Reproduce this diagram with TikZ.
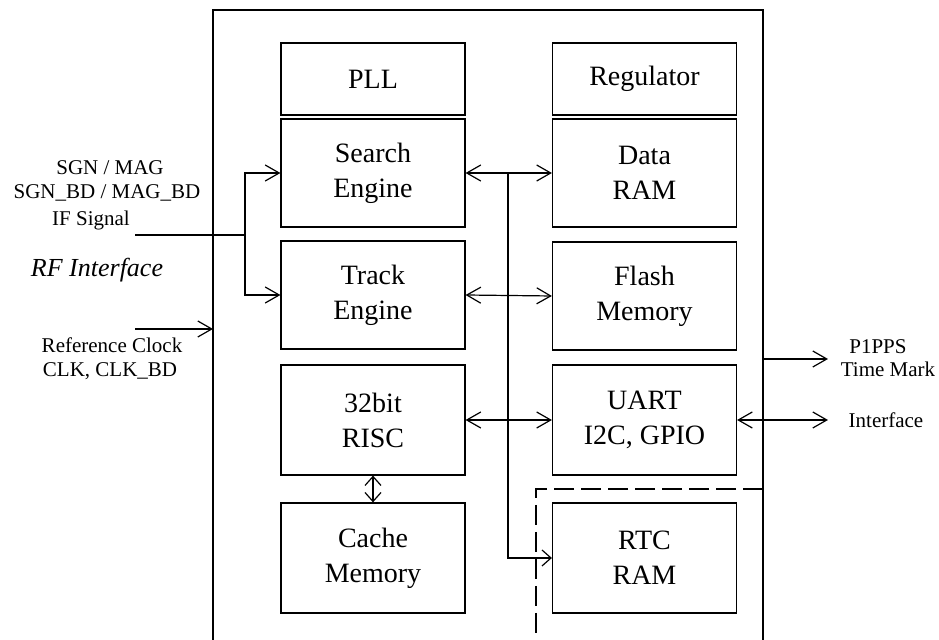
\documentclass[tikz,border=0pt]{standalone}
\usepackage{fontspec}
\setmainfont{Liberation Serif}
\usetikzlibrary{arrows.meta}

\begin{document}
\begin{tikzpicture}[x=0.5pt,y=-0.5pt,line width=0.6pt,
  >={Straight Barb[length=7pt,width=8pt]},
  every node/.style={font=\fontsize{14}{17.5}\selectfont,align=center},
  block/.style={draw,minimum width=92pt,minimum height=54pt,inner sep=0pt},
  pin/.style={font=\fontsize{10.5}{13}\selectfont,inner sep=0pt},
  small tip/.style={>={Straight Barb[length=4.5pt,width=8pt]}}]

  \useasboundingbox (0,0) rectangle (939,640);

  % chip outline
  \coordinate (chipbl) at (213,640);
  \coordinate (chipbr) at (763,640);
  \draw (chipbl) |- (763,10) -- (chipbr);

  % blocks
  \node[block,minimum height=36pt] (pll) at (373,79) {PLL};
  \node[block,minimum height=36pt] (reg) at (644.5,79) {Regulator};
  \node[block] (search) at (373,173) {Search\\Engine};
  \node[block] (data) at (644.5,173) {Data\\RAM};
  \node[block] (track) at (373,295) {Track\\Engine};
  \node[block] (flash) at (644.5,296) {Flash\\Memory};
  \node[block,minimum height=55pt] (risc) at (373,420) {32bit\\RISC};
  \node[block,minimum height=55pt] (uart) at (644.5,420) {UART\\I2C, GPIO};
  \node[block,minimum height=55pt] (cache) at (373,558) {Cache\\Memory};
  \node[block,minimum height=55pt] (rtc) at (644.5,558) {RTC\\RAM};

  % internal bus
  \coordinate (bus) at (508,173);
  \draw[<->] (search.east) -- (data.west);
  \draw[<->] (track.east) -- (flash.west);
  \draw[<->] (risc.east) -- (uart.west);
  \draw[->,small tip] (bus) |- (rtc.west);
  \draw[<->,small tip] (risc.south) -- (cache.north);

  % RTC power zone
  \coordinate (rtczone) at (536,489);
  \draw[dash pattern=on 10pt off 3.5pt] (rtczone -| chipbr) -- (rtczone) -- (rtczone |- chipbl);

  % RF interface
  \coordinate (ifin) at (135,235);
  \coordinate (split) at (245,235);
  \draw (ifin) -- (split);
  \draw[->] (split) |- (search.west);
  \draw[->] (split) |- (track.west);
  \node[pin] (sgn) at (110,168) {SGN / MAG};
  \node[pin] (sgnbd) at (107,193) {SGN\_BD / MAG\_BD};
  \node[pin] (ifsig) at (91,220) {IF Signal};
  \node[font=\fontsize{13}{15}\selectfont\itshape] (rf) at (97,270) {RF Interface};

  % reference clock
  \coordinate (clkin) at (135,329);
  \draw[->] (clkin) -- (clkin -| chipbl);
  \node[pin] (refclk) at (112,345) {Reference Clock};
  \node[pin] (clk) at (110,371) {CLK, CLK\_BD};

  % outputs
  \coordinate (ppsout) at (828,359);
  \coordinate (ifout) at (828,420);
  \draw[->] (ppsout -| chipbr) -- (ppsout);
  \draw[<->] (uart.east) -- (ifout);
  \node[pin] (pps) at (878,347) {P1PPS};
  \node[pin] (tmark) at (888,369) {Time Mark};
  \node[pin] (iface) at (886,420) {Interface};

\end{tikzpicture}
\end{document}
